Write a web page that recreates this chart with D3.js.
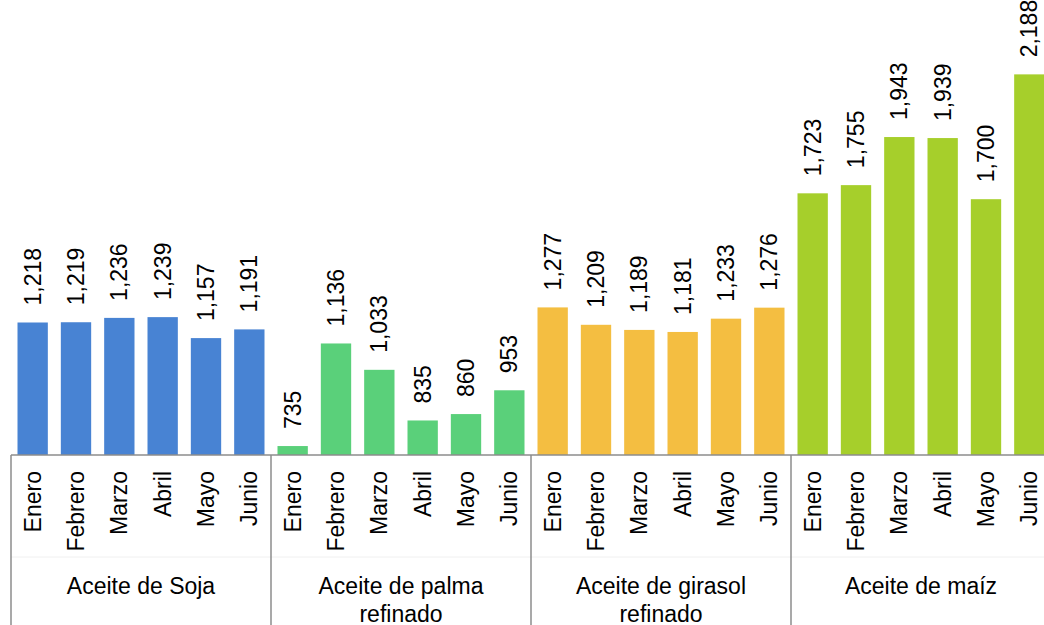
<!DOCTYPE html>
<html lang="es">
<head>
<meta charset="UTF-8">
<title>Aceites</title>
<style>
  body { margin: 0; background: #fff; }
  svg { display: block; }
  text { font-family: "Liberation Sans", Arial, sans-serif; fill: #000; }
  .axis path, .axis line { stroke: none; }
  .axis text { font-size: 23px; }
  .value { font-size: 23px; }
  .group-label { font-size: 23px; }
</style>
</head>
<body>
<script src="https://d3js.org/d3.v7.min.js"></script>
<script>

var width = 1044, height = 625;

// data
var groups = ["Aceite de Soja", "Aceite de palma refinado", "Aceite de girasol refinado", "Aceite de maíz"];
var groupLines = [["Aceite de Soja"], ["Aceite de palma", "refinado"], ["Aceite de girasol", "refinado"], ["Aceite de maíz"]];
var months = ["Enero", "Febrero", "Marzo", "Abril", "Mayo", "Junio"];
var soja = [1218, 1219, 1236, 1239, 1157, 1191];
var palma = [735, 1136, 1033, 835, 860, 953];
var girasol = [1277, 1209, 1189, 1181, 1233, 1276];
var maiz = [1723, 1755, 1943, 1939, 1700, 2188];
var colors = ["#4883d3", "#5ad07a", "#f4be41", "#a6cf2b"];

var series = [soja, palma, girasol, maiz];
var rows = [];
series.forEach(function(s, g) {
    s.forEach(function(v, i) {
        rows.push({key: g + "-" + i, group: g, month: months[i], value: v});
    });
});

var baseY = 455;
var left = 11, right = 1051;

var x = d3.scaleBand()
    .domain(rows.map(function(d) { return d.key; }))
    .range([left, right])
    .paddingInner(0.3)
    .paddingOuter(0.15);

var y = d3.scaleLinear()
    .domain([700, 2200])
    .range([baseY, 71.3]);

var svg = d3.select("body").append("svg")
    .attr("width", width)
    .attr("height", height);

// bars
svg.selectAll(".bar")
    .data(rows)
    .enter().append("rect")
    .attr("class", "bar")
    .attr("x", function(d) { return x(d.key); })
    .attr("width", x.bandwidth())
    .attr("y", function(d) { return y(d.value); })
    .attr("height", function(d) { return baseY - y(d.value); })
    .attr("fill", function(d) { return colors[d.group]; });

// value labels
var fmt = d3.format(",");
svg.selectAll(".value")
    .data(rows)
    .enter().append("text")
    .attr("class", "value")
    .attr("transform", function(d) {
        return "translate(" + (x(d.key) + x.bandwidth() / 2) + "," + (y(d.value) - 17) + ") rotate(-90)";
    })
    .attr("dy", "0.35em")
    .text(function(d) { return fmt(d.value); });

// month axis
var axis = svg.append("g")
    .attr("class", "axis")
    .attr("transform", "translate(0," + baseY + ")")
    .call(d3.axisBottom(x).tickSize(0).tickFormat(function(k) { return months[+k.split("-")[1]]; }));
axis.select(".domain").remove();
axis.selectAll("text")
    .attr("transform", "rotate(-90)")
    .attr("x", -16)
    .attr("y", 0)
    .attr("dy", "0.35em")
    .style("text-anchor", "end");

// axis frame
var groupStep = x.step() * 6;
svg.append("line")
    .attr("x1", left).attr("x2", right)
    .attr("y1", baseY).attr("y2", baseY)
    .attr("stroke", "#8c8c8c").attr("stroke-width", 1.5);

svg.append("line")
    .attr("x1", left).attr("x2", right)
    .attr("y1", 557).attr("y2", 557)
    .attr("stroke", "#f0f0f0").attr("stroke-width", 1);

svg.selectAll(".divider")
    .data(d3.range(groups.length))
    .enter().append("line")
    .attr("class", "divider")
    .attr("x1", function(g) { return left + g * groupStep; })
    .attr("x2", function(g) { return left + g * groupStep; })
    .attr("y1", baseY).attr("y2", height)
    .attr("stroke", "#8c8c8c").attr("stroke-width", 1.5);

// group labels
var gl = svg.selectAll(".group-label")
    .data(groupLines)
    .enter().append("text")
    .attr("class", "group-label")
    .attr("text-anchor", "middle")
    .attr("transform", function(d, g) {
        return "translate(" + (left + (g + 0.5) * groupStep) + ",586)";
    });
gl.selectAll("tspan")
    .data(function(d) { return d; })
    .enter().append("tspan")
    .attr("x", 0)
    .attr("y", function(d, i) { return i * 28; })
    .attr("dy", "0.35em")
    .text(function(d) { return d; });

</script>
</body>
</html>
